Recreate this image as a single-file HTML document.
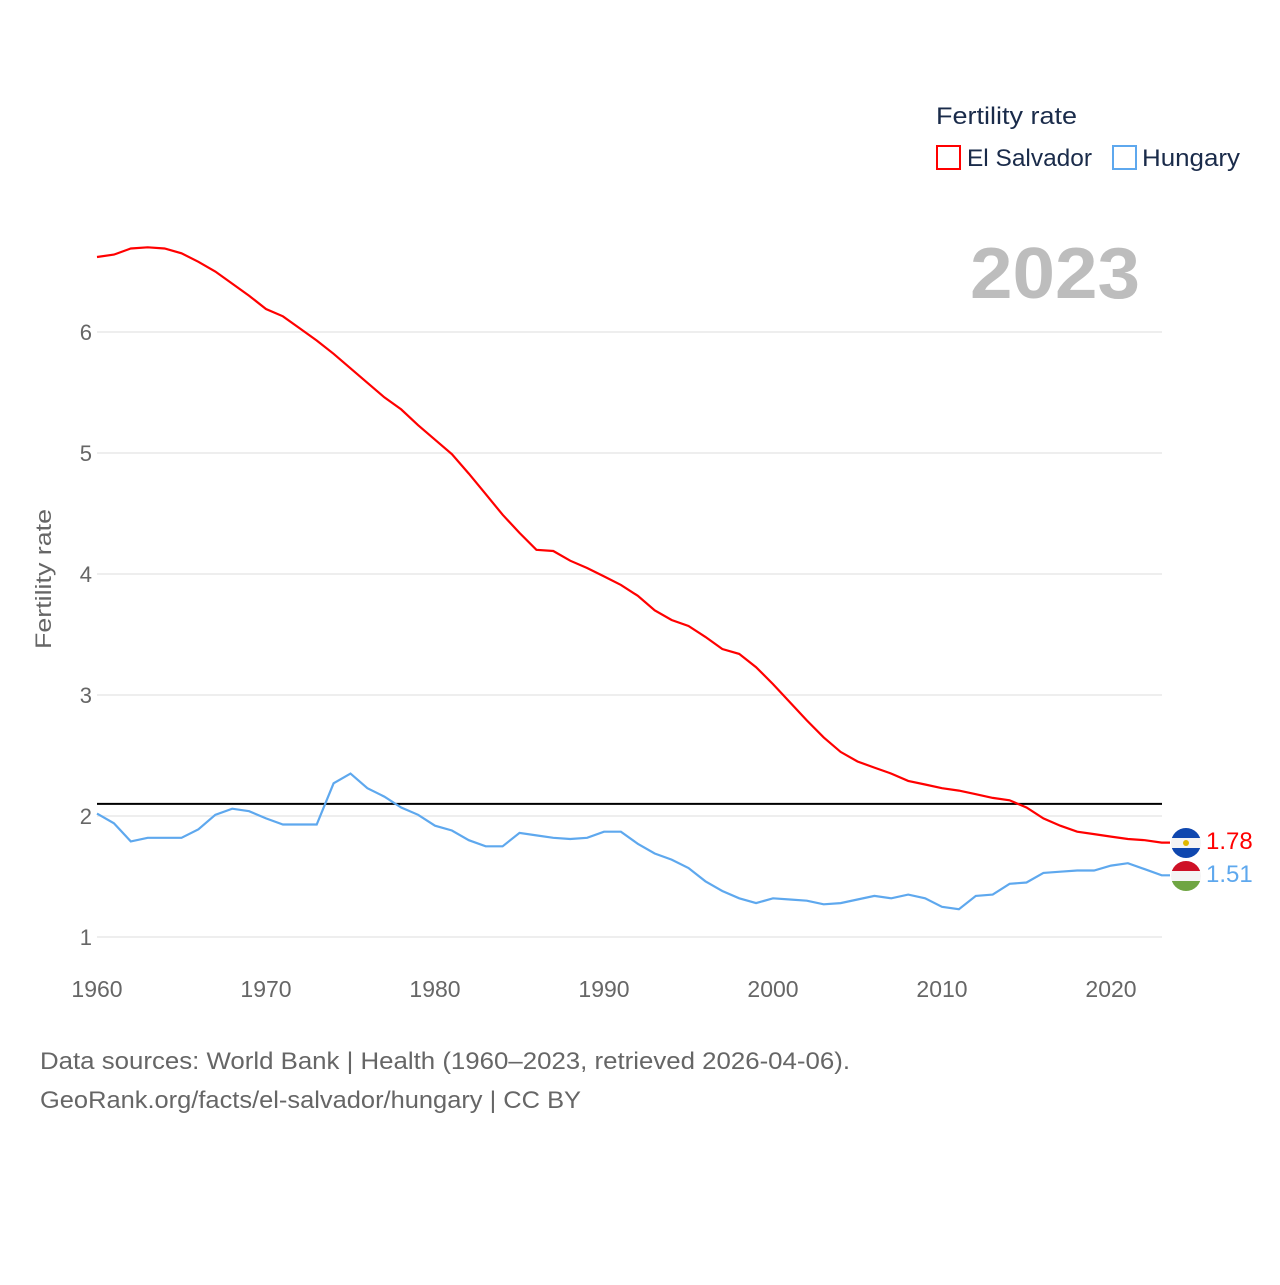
<!DOCTYPE html>
<html><head><meta charset="utf-8"><style>
body{margin:0;background:#fff;width:1280px;height:1280px;overflow:hidden;font-family:"Liberation Sans",sans-serif}
</style></head><body>
<svg id="chart" width="1280" height="1280" xmlns="http://www.w3.org/2000/svg" font-family="Liberation Sans, sans-serif">
<g id="grid"></g>
<g id="yticks"></g>
<g id="xticks"></g>
<text transform="translate(51,579) rotate(-90)" text-anchor="middle" font-size="22" fill="#666" textLength="140" lengthAdjust="spacingAndGlyphs">Fertility rate</text>
<text x="970" y="298" font-size="72" font-weight="bold" fill="#bdbdbd" textLength="170" lengthAdjust="spacingAndGlyphs">2023</text>
<g>
<text x="936" y="124" font-size="24" fill="#1a2b4a" textLength="141" lengthAdjust="spacingAndGlyphs">Fertility rate</text>
<rect x="937" y="146" width="23" height="23" fill="none" stroke="#ff0000" stroke-width="2"/>
<text x="967" y="166" font-size="24" fill="#1a2b4a" textLength="125" lengthAdjust="spacingAndGlyphs">El Salvador</text>
<rect x="1113" y="146" width="23" height="23" fill="none" stroke="#5ea8ee" stroke-width="2"/>
<text x="1142" y="166" font-size="24" fill="#1a2b4a" textLength="98" lengthAdjust="spacingAndGlyphs">Hungary</text>
</g>
<line id="refline" stroke="#000" stroke-width="2"/>
<path id="lineES" fill="none" stroke="#ff0000" stroke-width="2.2"/>
<path id="lineHU" fill="none" stroke="#5ea8ee" stroke-width="2.2"/>
<g>
<clipPath id="c1"><circle cx="1186" cy="843" r="15"/></clipPath>
<g clip-path="url(#c1)"><rect x="1170" y="827" width="32" height="11" fill="#0f47af"/><rect x="1170" y="838" width="32" height="10" fill="#f4f4f4"/><rect x="1170" y="848" width="32" height="11" fill="#0f47af"/><circle cx="1186" cy="843" r="3" fill="#e0b800"/></g>
</g>
<g>
<clipPath id="c2"><circle cx="1186" cy="876" r="15"/></clipPath>
<g clip-path="url(#c2)"><rect x="1170" y="860" width="32" height="11" fill="#ce1126"/><rect x="1170" y="871" width="32" height="10" fill="#f4f4f4"/><rect x="1170" y="881" width="32" height="11" fill="#6fa543"/></g>
</g>
<text id="valES" x="1206" y="849" font-size="24" fill="#ff0000">1.78</text>
<text id="valHU" x="1206" y="882" font-size="24" fill="#5ea8ee">1.51</text>
<text x="40" y="1069" font-size="24" fill="#666" textLength="810" lengthAdjust="spacingAndGlyphs">Data sources: World Bank | Health (1960–2023, retrieved 2026-04-06).</text>
<text x="40" y="1108" font-size="24" fill="#666" textLength="541" lengthAdjust="spacingAndGlyphs">GeoRank.org/facts/el-salvador/hungary | CC BY</text>
</svg>
<script>
const years = Array.from({length:64},(_, i)=>1960+i);
const elSalvador = [6.62,6.64,6.69,6.70,6.69,6.65,6.58,6.50,6.40,6.30,6.19,6.13,6.03,5.93,5.82,5.70,5.58,5.46,5.36,5.23,5.11,4.99,4.83,4.66,4.49,4.34,4.20,4.19,4.11,4.05,3.98,3.91,3.82,3.70,3.62,3.57,3.48,3.38,3.34,3.23,3.09,2.94,2.79,2.65,2.53,2.45,2.40,2.35,2.29,2.26,2.23,2.21,2.18,2.15,2.13,2.07,1.98,1.92,1.87,1.85,1.83,1.81,1.80,1.78];
const hungary = [2.02,1.94,1.79,1.82,1.82,1.82,1.89,2.01,2.06,2.04,1.98,1.93,1.93,1.93,2.27,2.35,2.23,2.16,2.07,2.01,1.92,1.88,1.80,1.75,1.75,1.86,1.84,1.82,1.81,1.82,1.87,1.87,1.77,1.69,1.64,1.57,1.46,1.38,1.32,1.28,1.32,1.31,1.30,1.27,1.28,1.31,1.34,1.32,1.35,1.32,1.25,1.23,1.34,1.35,1.44,1.45,1.53,1.54,1.55,1.55,1.59,1.61,1.56,1.51];
const yTicks = [1,2,3,4,5,6];
const xTicks = [1960,1970,1980,1990,2000,2010,2020];
const replacementRate = 2.1;

const X = y => 97 + (y-1960)*(1014/60);
const Y = v => 937 - (v-1)*121;
const NS='http://www.w3.org/2000/svg';
const grid=document.getElementById('grid'), yt=document.getElementById('yticks'), xt=document.getElementById('xticks');
yTicks.forEach(t=>{
  const l=document.createElementNS(NS,'line');
  
  
  l.setAttribute('x1',97);l.setAttribute('x2',1162);l.setAttribute('y1',Y(t));l.setAttribute('y2',Y(t));
  l.setAttribute('stroke','#e8e8e8');l.setAttribute('stroke-width','1.5');grid.appendChild(l);
  const tx=document.createElementNS(NS,'text');
  
  
  tx.setAttribute('x',92);tx.setAttribute('y',Y(t)+8);tx.setAttribute('text-anchor','end');
  tx.setAttribute('font-size','22');tx.setAttribute('fill','#666');tx.textContent=t;yt.appendChild(tx);
});
xTicks.forEach(t=>{
  const tx=document.createElementNS(NS,'text');
  
  
  tx.setAttribute('x',X(t));tx.setAttribute('y',997);tx.setAttribute('text-anchor','middle');
  tx.setAttribute('font-size','23');tx.setAttribute('fill','#666');tx.textContent=t;xt.appendChild(tx);
});
const rl=document.getElementById('refline');
rl.setAttribute('x1',97);rl.setAttribute('x2',1162);rl.setAttribute('y1',Y(replacementRate));rl.setAttribute('y2',Y(replacementRate));
const path=arr=>arr.map((v,i)=>(i?'L':'M')+X(years[i]).toFixed(1)+','+Y(v).toFixed(1)).join('');
document.getElementById('lineES').setAttribute('d',path(elSalvador)+'L1170,'+Y(elSalvador[63]).toFixed(1));
document.getElementById('lineHU').setAttribute('d',path(hungary)+'L1170,'+Y(hungary[63]).toFixed(1));
document.getElementById('valES').textContent=elSalvador[elSalvador.length-1].toFixed(2);
document.getElementById('valHU').textContent=hungary[hungary.length-1].toFixed(2);
</script>
</body></html>
